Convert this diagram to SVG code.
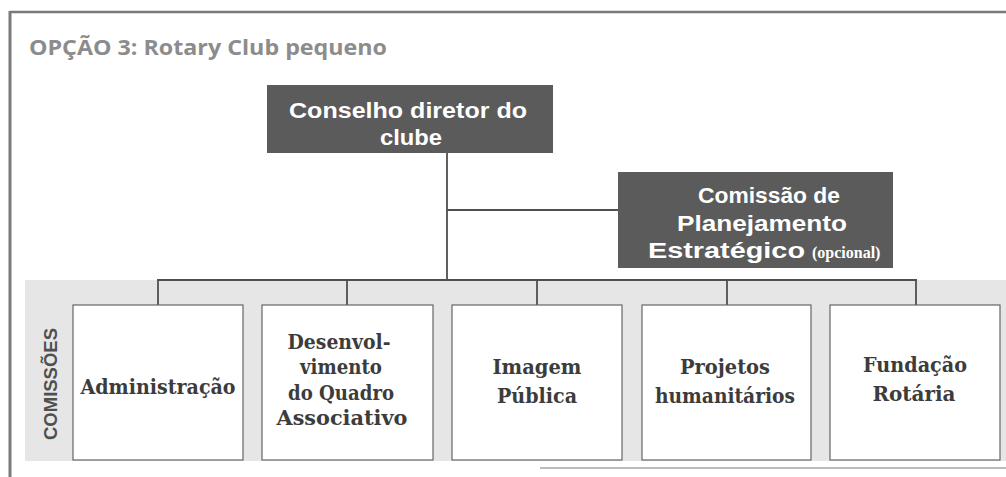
<svg xmlns="http://www.w3.org/2000/svg" width="1006" height="477" viewBox="0 0 1006 477">
<style>
.frame{stroke:#7a7a7a;fill:none}
.dark{fill:#5b5b5b}
.wt{fill:#ffffff;font-family:"Liberation Sans",Arial,sans-serif;font-weight:bold;font-size:22px;text-anchor:middle}
.box{fill:#ffffff;stroke:#666666;stroke-width:1.2}
.bt{fill:#3c3c3c;font-family:"DejaVu Serif",serif;font-weight:bold;font-size:20.5px;text-anchor:middle}
.conn line{stroke:#4f4f4f;stroke-width:1.8}
</style>
<rect x="0" y="0" width="1006" height="477" fill="#ffffff"/>
<line class="frame" x1="10" y1="12" x2="1006" y2="12" stroke-width="2.5"/>
<line class="frame" x1="10" y1="11" x2="10" y2="477" stroke-width="3"/>
<line class="frame" x1="540" y1="468" x2="1006" y2="468" stroke-width="1.2" stroke="#aaaaaa"/>
<text x="29" y="55" fill="#8c8c8c" font-family="Open Sans,Noto Sans,sans-serif" font-weight="bold" font-size="21" textLength="358" lengthAdjust="spacingAndGlyphs">OPÇÃO 3: Rotary Club pequeno</text>
<rect x="25" y="280" width="981" height="181" fill="#e6e6e6"/>
<text transform="translate(57,384) rotate(-90)" fill="#505050" font-family="Liberation Sans,sans-serif" font-weight="bold" font-size="19" text-anchor="middle" textLength="112" lengthAdjust="spacingAndGlyphs">COMISSÕES</text>
<g class="conn">
<line x1="447" y1="153" x2="447" y2="280"/>
<line x1="447" y1="210" x2="618" y2="210"/>
<line x1="157" y1="280" x2="917" y2="280"/>
<line x1="158" y1="279" x2="158" y2="305"/>
<line x1="347" y1="279" x2="347" y2="305"/>
<line x1="537" y1="279" x2="537" y2="305"/>
<line x1="727" y1="279" x2="727" y2="305"/>
<line x1="916" y1="279" x2="916" y2="305"/>
</g>
<g id="conselho">
<rect class="dark" x="267" y="85" width="286" height="68"/>
<text class="wt" x="408" y="118" textLength="238" lengthAdjust="spacingAndGlyphs">Conselho diretor do</text>
<text class="wt" x="411" y="145" textLength="62" lengthAdjust="spacingAndGlyphs">clube</text>
</g>
<g id="planejamento">
<rect class="dark" x="618" y="172" width="275" height="96"/>
<text class="wt" x="769" y="203" textLength="142" lengthAdjust="spacingAndGlyphs">Comissão de</text>
<text class="wt" x="762" y="231" textLength="170" lengthAdjust="spacingAndGlyphs">Planejamento</text>
<text x="648" y="258" fill="#ffffff"><tspan font-family="Liberation Sans,Arial,sans-serif" font-weight="bold" font-size="22" textLength="157" lengthAdjust="spacingAndGlyphs">Estratégico</tspan><tspan dx="7" font-family="Liberation Serif,serif" font-weight="bold" font-size="16">(opcional)</tspan></text>
</g>
<g id="administracao">
<rect class="box" x="73" y="305" width="170" height="155"/>
<text class="bt" x="158" y="394" textLength="155" lengthAdjust="spacingAndGlyphs">Administração</text>
</g>
<g id="desenvolvimento">
<rect class="box" x="262" y="305" width="171" height="155"/>
<text class="bt" x="339" y="349" textLength="103" lengthAdjust="spacingAndGlyphs">Desenvol-</text>
<text class="bt" x="341" y="374" textLength="82" lengthAdjust="spacingAndGlyphs">vimento</text>
<text class="bt" x="341" y="400" textLength="106" lengthAdjust="spacingAndGlyphs">do Quadro</text>
<text class="bt" x="342" y="425" textLength="131" lengthAdjust="spacingAndGlyphs">Associativo</text>
</g>
<g id="imagem">
<rect class="box" x="452" y="305" width="170" height="155"/>
<text class="bt" x="537" y="374" textLength="89" lengthAdjust="spacingAndGlyphs">Imagem</text>
<text class="bt" x="537" y="403" textLength="80" lengthAdjust="spacingAndGlyphs">Pública</text>
</g>
<g id="projetos">
<rect class="box" x="642" y="305" width="169" height="155"/>
<text class="bt" x="725" y="374" textLength="90" lengthAdjust="spacingAndGlyphs">Projetos</text>
<text class="bt" x="725" y="403" textLength="140" lengthAdjust="spacingAndGlyphs">humanitários</text>
</g>
<g id="fundacao">
<rect class="box" x="830" y="305" width="170" height="155"/>
<text class="bt" x="915" y="372" textLength="104" lengthAdjust="spacingAndGlyphs">Fundação</text>
<text class="bt" x="914" y="401" textLength="83" lengthAdjust="spacingAndGlyphs">Rotária</text>
</g>
</svg>
